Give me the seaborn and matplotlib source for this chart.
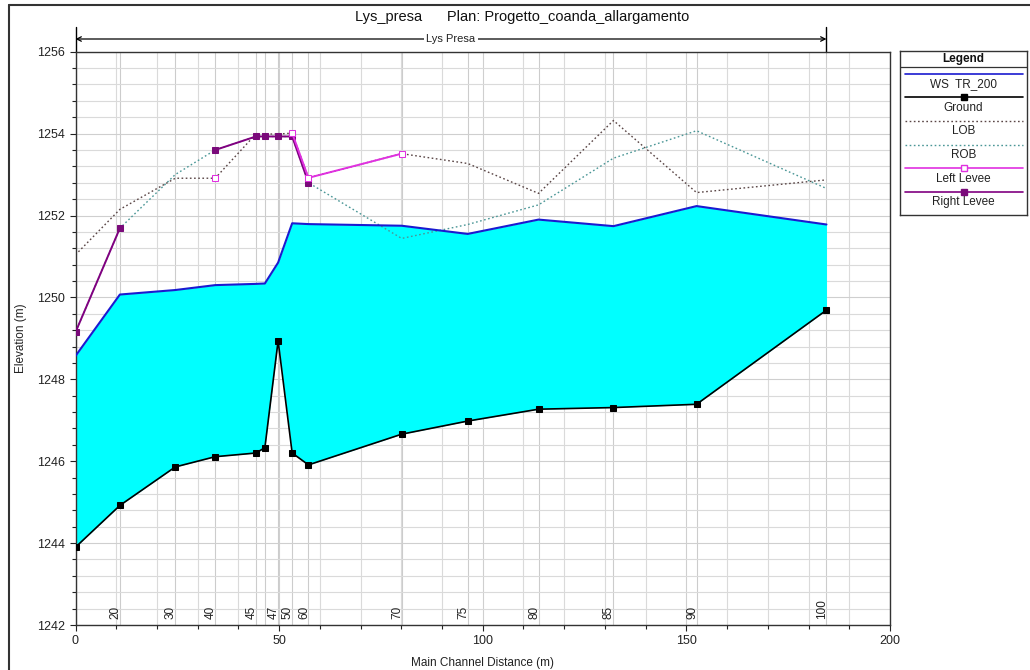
import numpy as np
import pandas as pd
import matplotlib
matplotlib.use("Agg")
import matplotlib.pyplot as plt
from matplotlib.lines import Line2D
from matplotlib.ticker import MultipleLocator
import seaborn as sns

# ---------------- data ----------------
stations = [0, 10.9, 24.5, 34.3, 44.3, 46.5, 49.75, 53.2, 57.2, 80.1, 96.3, 113.7, 132.1, 152.5, 184.4]
station_labels = ['', '20', '30', '40', '45', '', '47', '50', '60', '70', '75', '80', '85', '90', '100']
ground = [1243.90, 1244.92, 1245.86, 1246.11, 1246.20, 1246.33, 1248.94, 1246.20, 1245.91,
          1246.66, 1246.98, 1247.27, 1247.31, 1247.39, 1249.69]
ws_tr200 = [1248.57, 1250.07, 1250.18, 1250.30, 1250.33, 1250.34, 1250.85, 1251.81, 1251.79,
            1251.75, 1251.55, 1251.90, 1251.74, 1252.23, 1251.78]
lob = [1251.04, 1252.15, 1252.91, 1252.91, 1253.99, 1253.99, 1253.99, 1254.01, 1252.92,
       1253.51, 1253.27, 1252.54, 1254.32, 1252.56, 1252.87]
rob = [1249.15, 1251.69, 1253.00, 1253.60, 1253.93, 1253.93, 1253.93, 1253.93, 1252.80,
       1251.44, 1251.78, 1252.26, 1253.40, 1254.07, 1252.66]
nan = np.nan
left_levee = [nan, nan, nan, 1252.92, nan, nan, nan, 1254.01, 1252.92, 1253.51, nan, nan, nan, nan, nan]
right_levee = [1249.15, 1251.69, nan, 1253.60, 1253.93, 1253.93, 1253.93, 1253.93, 1252.80,
               nan, nan, nan, nan, nan, nan]

river_name = "Lys Presa"
title = "Lys_presa      Plan: Progetto_coanda_allargamento"

# ---------------- style ----------------
sns.set_theme(style="white")
plt.rcParams['font.family'] = ['Liberation Sans', 'DejaVu Sans']

W, H = 1030, 670
fig = plt.figure(figsize=(W / 100, H / 100), dpi=100)

def fx(px):
    return px / W

def fy(py):
    return 1 - py / H

ax_l, ax_r, ax_t, ax_b = 75.5, 890, 51.7, 625
ax = fig.add_axes([fx(ax_l), fy(ax_b), fx(ax_r - ax_l), (ax_b - ax_t) / H])

ax.set_xlim(0, 200)
ax.set_ylim(1242, 1256)

# grid
ax.xaxis.set_major_locator(MultipleLocator(50))
ax.xaxis.set_minor_locator(MultipleLocator(10))
ax.yaxis.set_major_locator(MultipleLocator(2))
ax.yaxis.set_minor_locator(MultipleLocator(0.4))
ax.grid(True, which='major', color='#cfcfcf', lw=0.8, zorder=0)
ax.grid(True, which='minor', color='#dadada', lw=0.8, zorder=0)
ax.set_axisbelow(True)

for s in stations:
    ax.axvline(s, color='#cccccc', lw=0.8, zorder=0.5)

# fill water
ax.fill_between(stations, ground, ws_tr200, color='#00ffff', lw=0, zorder=1)

df = pd.DataFrame({'station': stations, 'ground': ground, 'ws': ws_tr200,
                   'lob': lob, 'rob': rob, 'left': left_levee, 'right': right_levee})

def segments(col):
    vals = df[col].to_numpy()
    seg = np.cumsum(np.isnan(vals))
    out = pd.DataFrame({'station': df['station'], 'elev': vals, 'seg': seg})
    return out.dropna()

sns.lineplot(data=df, x='station', y='lob', ax=ax, color='#5a4646', lw=1.0,
             linestyle=(0, (1.2, 1.8)), sort=False, estimator=None, zorder=2)
sns.lineplot(data=df, x='station', y='rob', ax=ax, color='#4a9696', lw=1.0,
             linestyle=(0, (1.2, 1.8)), sort=False, estimator=None, zorder=2)

sns.lineplot(data=segments('right'), x='station', y='elev', units='seg', estimator=None,
             sort=False, ax=ax, color='#800080', lw=1.4, marker='s', markersize=5,
             markerfacecolor='#7a0a7a', markeredgecolor='#7a0a7a', zorder=3)
sns.lineplot(data=segments('left'), x='station', y='elev', units='seg', estimator=None,
             sort=False, ax=ax, color='#e030e0', lw=1.4, marker='s', markersize=5,
             markerfacecolor='white', markeredgecolor='#e030e0', zorder=3)

sns.lineplot(data=df, x='station', y='ws', ax=ax, color='#1a1ad0', lw=1.5,
             sort=False, estimator=None, zorder=4)
sns.lineplot(data=df, x='station', y='ground', ax=ax, color='black', lw=1.2,
             marker='s', markersize=4.5, markerfacecolor='black', markeredgecolor='black',
             sort=False, estimator=None, zorder=5)

# station labels
for s, lab in zip(stations, station_labels):
    if lab:
        ax.annotate(lab, xy=(s, 1242), xytext=(-4.5 * 0.72, 6 * 0.72),
                    textcoords='offset points', rotation=90, ha='center', va='bottom',
                    fontsize=8.5, color='#222222', zorder=6)

# axes cosmetics
for sp in ax.spines.values():
    sp.set_color('#333333')
    sp.set_linewidth(1.0)
ax.tick_params(axis='both', which='major', direction='out', length=4, width=0.8,
               labelsize=9, colors='#222222', bottom=True, left=True)
ax.tick_params(axis='both', which='minor', direction='out', length=3, width=0.8,
               bottom=True, left=True, colors='#222222')
ax.set_xlabel('Main Channel Distance (m)', fontsize=8.5, color='#222222')
ax.set_ylabel('Elevation (m)', fontsize=8.5, color='#222222')
ax.xaxis.set_label_coords(0.5, -0.055)
ax.yaxis.set_label_coords(-0.060, 0.5)

# river reach arrow on top
x_end = stations[-1]
y_arrow = 1256 + (ax_t - 39) / ((ax_b - ax_t) / 14)
y_vtop = 1256 + (ax_t - 27) / ((ax_b - ax_t) / 14)
ax.annotate('', xy=(stations[0], y_arrow), xytext=(x_end, y_arrow),
            arrowprops=dict(arrowstyle='<->', color='black', lw=0.9,
                            shrinkA=0, shrinkB=0, mutation_scale=8),
            annotation_clip=False)
ax.plot([stations[0], stations[0]], [1256, y_vtop], color='black', lw=1.0, clip_on=False)
ax.plot([x_end, x_end], [1256, y_vtop], color='black', lw=1.0, clip_on=False)
ax.text((stations[0] + x_end) / 2, y_arrow, river_name, ha='center', va='center',
        fontsize=8, color='#222222',
        bbox=dict(facecolor='white', edgecolor='none', pad=1.5), clip_on=False)

# title
fig.text(fx(522), fy(17), title, ha='center', va='center', fontsize=10.5, color='#111111')

# figure frame (left and top)
fig.add_artist(Line2D([fx(9), fx(9)], [fy(5), fy(670)], color='#333333', lw=1.5))
fig.add_artist(Line2D([fx(9), fx(1030)], [fy(5), fy(5)], color='#333333', lw=1.5))

# ---------------- legend panel ----------------
lg_l, lg_r, lg_t, lg_b = 900, 1027, 51, 215
lax = fig.add_axes([fx(lg_l), fy(lg_b), fx(lg_r - lg_l), (lg_b - lg_t) / H])
lax.set_xlim(lg_l, lg_r)
lax.set_ylim(lg_b, lg_t)
lax.set_xticks([])
lax.set_yticks([])
for sp in lax.spines.values():
    sp.set_color('#333333')
    sp.set_linewidth(1.0)
cx = (lg_l + lg_r) / 2
lax.text(cx, 59, 'Legend', ha='center', va='center', fontsize=8.5, fontweight='bold', color='#111111')
lax.plot([lg_l, lg_r], [67.5, 67.5], color='#333333', lw=0.9)

entries = [
    ('WS  TR_200', dict(color='#1a1ad0', lw=1.2), None),
    ('Ground', dict(color='black', lw=1.2), dict(marker='s', ms=4.5, mfc='black', mec='black')),
    ('LOB', dict(color='#5a4646', lw=1.0, linestyle=(0, (1.2, 1.8))), None),
    ('ROB', dict(color='#4a9696', lw=1.0, linestyle=(0, (1.2, 1.8))), None),
    ('Left Levee', dict(color='#e030e0', lw=1.2), dict(marker='s', ms=4.5, mfc='white', mec='#e030e0')),
    ('Right Levee', dict(color='#800080', lw=1.2), dict(marker='s', ms=4.5, mfc='#7a0a7a', mec='#7a0a7a')),
]
line_y = [74, 97.5, 121, 145, 168.5, 192]
for (lab, lkw, mkw), ly in zip(entries, line_y):
    lax.plot([lg_l + 5, lg_r - 4], [ly, ly], **lkw)
    if mkw:
        lax.plot([cx], [ly], linestyle='none', **mkw)
    lax.text(cx, ly + 10.5, lab, ha='center', va='center', fontsize=8.5, color='#222222')

fig.savefig('out.png', dpi=100)
